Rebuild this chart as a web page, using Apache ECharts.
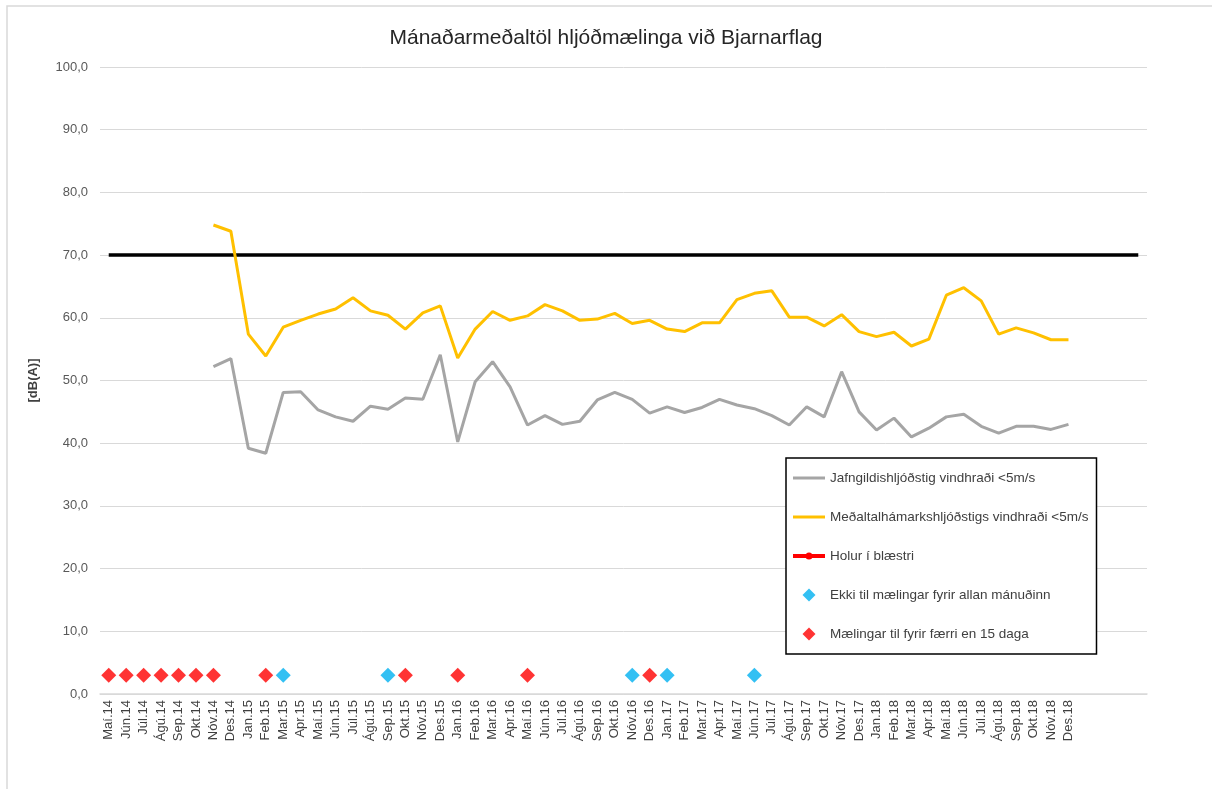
<!DOCTYPE html>
<html>
<head>
<meta charset="utf-8">
<script src="https://cdn.jsdelivr.net/npm/echarts@6/dist/echarts.min.js"></script>
<style>
html,body{margin:0;padding:0;background:#fff;}
#chart{width:1212px;height:789px;}
</style>
</head>
<body>
<div id="chart"></div>
<script>
const months = ['Maí.14','Jún.14','Júl.14','Ágú.14','Sep.14','Okt.14','Nóv.14','Des.14',
'Jan.15','Feb.15','Mar.15','Apr.15','Maí.15','Jún.15','Júl.15','Ágú.15','Sep.15','Okt.15','Nóv.15','Des.15',
'Jan.16','Feb.16','Mar.16','Apr.16','Maí.16','Jún.16','Júl.16','Ágú.16','Sep.16','Okt.16','Nóv.16','Des.16',
'Jan.17','Feb.17','Mar.17','Apr.17','Maí.17','Jún.17','Júl.17','Ágú.17','Sep.17','Okt.17','Nóv.17','Des.17',
'Jan.18','Feb.18','Mar.18','Apr.18','Maí.18','Jún.18','Júl.18','Ágú.18','Sep.18','Okt.18','Nóv.18','Des.18'];
const trailingBlank = [' ','  ','   ','    '];

const jafngildi = [null,null,null,null,null,null,52.2,53.5,
39.2,38.4,48.1,48.2,45.3,44.2,43.5,45.9,45.4,47.2,47.0,54.1,
40.2,49.8,53.0,49.0,42.9,44.4,43.0,43.5,46.9,48.1,47.0,44.8,
45.8,44.9,45.7,47.0,46.1,45.5,44.4,42.9,45.8,44.2,51.4,45.0,
42.1,44.0,41.0,42.4,44.2,44.6,42.7,41.6,42.7,42.7,42.2,43.0];

const medaltal = [null,null,null,null,null,null,74.8,73.8,
57.4,53.9,58.5,59.6,60.6,61.4,63.2,61.1,60.4,58.2,60.8,61.9,
53.6,58.2,61.0,59.6,60.3,62.1,61.1,59.6,59.8,60.7,59.1,59.6,
58.2,57.8,59.2,59.2,62.9,63.9,64.3,60.1,60.1,58.7,60.5,57.8,
57.0,57.7,55.5,56.6,63.6,64.8,62.7,57.4,58.4,57.6,56.5,56.5];

const limitValue = 70;
const markerLevel = 3;
const ekkiMonths = ['Mar.15','Sep.15','Nóv.16','Jan.17','Jún.17'];
const faerriMonths = ['Maí.14','Jún.14','Júl.14','Ágú.14','Sep.14','Okt.14','Nóv.14','Feb.15','Okt.15','Jan.16','Maí.16','Des.16'];

const cats = months.concat(trailingBlank);
const limitData = cats.map(() => limitValue);

const chart = echarts.init(document.getElementById('chart'));
const font = 'Liberation Sans, Arial, sans-serif';
const barIcon = 'path://M0,0 L32,0 L32,3 L0,3 Z';
const lineDotIcon = 'path://M0,1.5 L32,1.5 L32,5.5 L0,5.5 Z M12.5,3.5 A3.5,3.5 0 1,1 19.5,3.5 A3.5,3.5 0 1,1 12.5,3.5 Z';
const diamondIcon = 'path://M5,0 L10,5 L5,10 L0,5 Z';
chart.setOption({
  animation: false,
  backgroundColor: '#fff',
  title: {
    text: 'Mánaðarmeðaltöl hljóðmælinga við Bjarnarflag',
    left: 'center', top: 23,
    textStyle: {fontFamily: font, fontSize: 21, fontWeight: 'normal', color: '#262626'}
  },
  graphic: [{
    type: 'rect', shape: {x: 7, y: 6, width: 1300, height: 900},
    style: {fill: 'none', stroke: '#d9d9d9', lineWidth: 1.5}, silent: true, z: -1
  }],
  grid: {left: 100, right: 65, top: 67, bottom: 95},
  legend: {
    orient: 'vertical', left: 786, top: 458,
    padding: [13, 8, 13, 7], itemGap: 25, itemWidth: 32, itemHeight: 13,
    backgroundColor: '#fff', borderColor: '#000', borderWidth: 1.5,
    textStyle: {fontFamily: font, fontSize: 13.5, color: '#404040'},
    data: [
      {name: 'Jafngildishljóðstig vindhraði <5m/s', icon: barIcon},
      {name: 'Meðaltalhámarkshljóðstigs vindhraði <5m/s', icon: barIcon},
      {name: 'Holur í blæstri', icon: lineDotIcon},
      {name: 'Ekki til mælingar fyrir allan mánuðinn', icon: diamondIcon},
      {name: 'Mælingar til fyrir færri en 15 daga', icon: diamondIcon}
    ]
  },
  xAxis: {
    type: 'category', data: cats, boundaryGap: true,
    axisLine: {lineStyle: {color: '#d9d9d9', width: 1.5}},
    axisTick: {show: false},
    axisLabel: {interval: 0, rotate: 90, fontFamily: font, fontSize: 13, color: '#404040', margin: 6},
    splitLine: {show: false}
  },
  yAxis: {
    type: 'value', min: 0, max: 100, interval: 10,
    name: '[dB(A)]', nameLocation: 'middle', nameGap: 60, nameRotate: 90,
    nameTextStyle: {fontFamily: font, fontSize: 13, color: '#404040', fontWeight: 'bold'},
    axisLine: {show: false}, axisTick: {show: false},
    axisLabel: {fontFamily: font, fontSize: 13, color: '#595959', margin: 12,
      formatter: v => v.toFixed(1).replace('.', ',')},
    splitLine: {lineStyle: {color: '#d9d9d9', width: 1}}
  },
  series: [
    {name: 'Jafngildishljóðstig vindhraði <5m/s', type: 'line', data: jafngildi,
     symbol: 'none', lineStyle: {color: '#a5a5a5', width: 3}, itemStyle: {color: '#a5a5a5'}, z: 3},
    {name: 'Meðaltalhámarkshljóðstigs vindhraði <5m/s', type: 'line', data: medaltal,
     symbol: 'none', lineStyle: {color: '#ffc000', width: 3}, itemStyle: {color: '#ffc000'}, z: 3},
    {name: 'Holur í blæstri', type: 'line', data: [],
     symbol: 'none', lineStyle: {color: '#ff0000', width: 4}, itemStyle: {color: '#ff0000'}},
    {name: 'Ekki til mælingar fyrir allan mánuðinn', type: 'scatter', symbol: 'diamond', symbolSize: 15,
     itemStyle: {color: '#00b0f0'}, data: ekkiMonths.map(m => [m, markerLevel]), z: 4},
    {name: 'Mælingar til fyrir færri en 15 daga', type: 'scatter', symbol: 'diamond', symbolSize: 15,
     itemStyle: {color: '#ff0000'}, data: faerriMonths.map(m => [m, markerLevel]), z: 4},
    {name: 'limit', type: 'line', data: limitData, symbol: 'none',
     lineStyle: {color: '#000', width: 3.5}, z: 2}
  ]
});
</script>
</body>
</html>
